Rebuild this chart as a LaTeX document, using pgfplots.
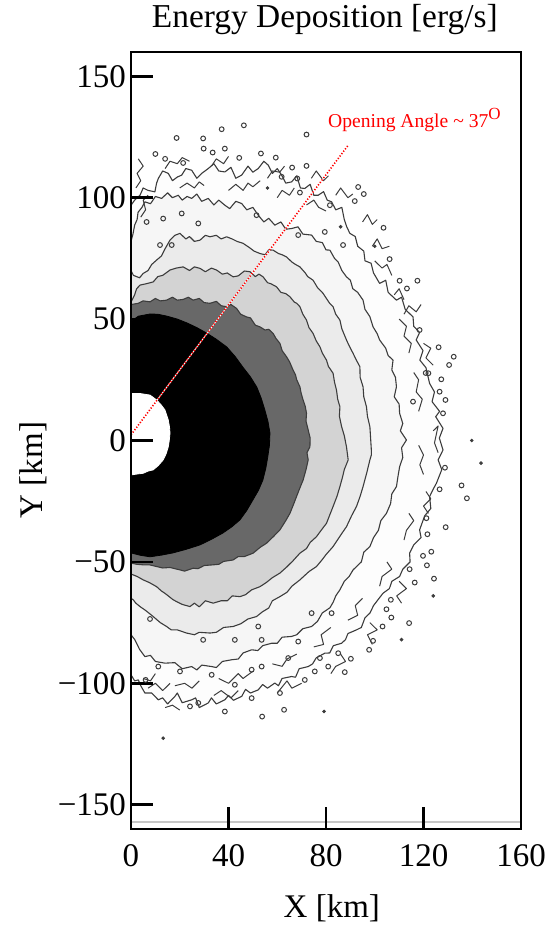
\documentclass[border=0pt]{standalone}
\usepackage{fontspec}
\setmainfont{Liberation Serif}
\usepackage{pgfplots}
\pgfplotsset{compat=1.18}

\definecolor{cline}{RGB}{60,60,60}
\definecolor{lev0}{RGB}{253,253,253}
\definecolor{lev1}{RGB}{246,246,246}
\definecolor{lev2}{RGB}{235,235,235}
\definecolor{lev3}{RGB}{211,211,211}
\definecolor{lev4}{RGB}{104,104,104}

\pgfplotsset{
  contour/.style={draw=cline, line width=0.55pt, line join=round, mark=none},
  squig/.style={draw=cline, line width=0.5pt, line join=round, mark=none},
}

\begin{document}
\begin{tikzpicture}
\begin{axis}[
  scale only axis, width=195pt, height=388.5pt,
  xmin=0, xmax=160, ymin=-160, ymax=160,
  axis on top,
  axis line style={line width=1.4pt},
  tick align=inside, xtick pos=bottom, ytick pos=left,
  major tick length=11pt,
  tick style={line width=1.3pt, black},
  xtick={0,40,80,120,160}, xticklabels={0,40,80,120,160},
  ytick={-150,-100,...,150}, yticklabels={−150,−100,−50,0,50,100,150},
  tick label style={font=\fontsize{16.5}{18}\selectfont},
  xticklabel style={yshift=-4pt},
  yticklabel style={xshift=1pt},
  title={Energy Deposition [erg/s]},
  title style={font=\fontsize{16.7}{19}\selectfont, at={(axis description cs:0.497,1.026)}, anchor=center},
  xlabel={X [km]}, ylabel={Y [km]},
  label style={font=\fontsize{16.5}{19}\selectfont},
  xlabel style={at={(axis description cs:0.515,-0.102)}, anchor=center},
  ylabel style={at={(axis description cs:-0.251,0.462)}, anchor=center},
]

% outermost ragged contour
\addplot[contour, fill=lev0] coordinates {
(0,96.9) (1.5,99) (3.7,101) (5,104) (7,103) (9.8,102.4) (10.5,106) (11.2,107.9) (13,111) (15.3,110)
(17,107) (19,108.5) (20.8,109.3) (22.5,112) (24.9,111.3) (27,108) (29,110) (31.7,112) (34,114) (36,111)
(38.5,110.6) (41,112.5) (43,108) (45.4,109.3) (48,113) (50,110.5) (52.2,112) (54.5,115) (56.3,113.4) (58,110)
(60,112) (61.8,109.3) (63.5,106) (65.9,106.5) (68,109) (69.5,104) (71.3,103.8) (73.5,105.5) (75,101) (76.8,101)
(79,102.5) (80.5,99) (82.3,98.3) (84,95) (86.5,96) (87.5,91) (88.5,88) (89.8,85.3) (92,84) (93,80)
(95.5,78) (96,74) (98.5,73) (99.5,69) (102,64.7) (104.5,66) (105.5,61) (108.9,57.8) (111,59) (112.5,54)
(115.7,50.9) (116,47) (118.4,44.5) (117,41.4) (119.8,37) (118.5,33.1) (121,30) (122.5,23.5) (124.5,20) (123.5,16)
(126.6,12) (125,9.8) (128,5) (126.5,1) (128,-3.9) (126,-8) (127.5,-12) (125.3,-17.6) (124,-20) (122.5,-23.1)
(123,-28) (120.5,-31) (118.4,-36.8) (119,-40) (116,-43) (114.3,-46.4) (114.5,-50) (111.5,-53) (110.2,-56) (107,-58)
(106,-61) (103.4,-62.9) (101,-66) (99.5,-68) (98,-71.1) (96,-73) (94.5,-77) (92.5,-78) (89,-79.5) (88,-82)
(86.4,-83.5) (83,-84.5) (81.5,-87.5) (79.5,-87.6) (76,-89.5) (74.5,-92) (72.7,-93.1) (69,-94) (67.5,-97.5) (65.9,-97.2)
(62,-98) (60.5,-101) (59,-99.9) (56,-102) (54,-100.5) (52.2,-102.7) (49,-104) (47,-102.5) (45.4,-105.4) (42,-107)
(40,-105) (38.5,-106.8) (35,-108.5) (33,-106) (31.7,-108.1) (28,-110) (26.5,-106) (24.9,-106.8) (21,-108) (19,-104)
(18,-105.4) (15,-108.5) (13,-106) (11.2,-106.8) (8.5,-104) (5.7,-104) (4,-101) (3,-98.6) (1.5,-99) (0,-96.5)
} -- cycle;

% second contour
\addplot[contour, fill=lev1] coordinates {
(0,82) (0.8,85) (1.5,88.7) (2.5,91) (2.9,94) (4.5,96) (5.7,98.3) (8,97.5) (10,100.5) (12.6,99.7)
(15,102) (17,100) (19.4,101) (21,99) (23,100.5) (24.9,99.7) (27,101.5) (29,98.5) (31.7,99.7) (34,97)
(36,99) (38.5,96.9) (40.5,95.5) (43,98.5) (45.4,97.6) (47.5,95) (50,96) (52.2,92.8) (54.5,90) (56.5,91.5)
(59,88.7) (61.5,90) (63.5,87) (65.9,87.3) (68.5,88) (70.5,85) (74.1,84.6) (76,82) (78.5,81.5) (80,78.5)
(81.6,78.4) (83.5,75) (85,73.5) (86.5,70) (88.4,67.4) (90,66) (91,62.5) (93,61) (95.2,57.8) (96,54)
(98,51) (99.3,46.8) (101,44) (102,41.4) (104.5,38) (105.5,35) (107.5,33.1) (107,29) (108.5,26) (108.9,22.1)
(108,18) (110,15) (110.2,11.2) (111.5,7) (110.5,4) (113,0.2) (111,-3) (111.5,-7) (110.2,-10.8) (109.5,-15)
(108.9,-19) (107,-22) (106.5,-26) (104.8,-30) (102.5,-33) (101.5,-37) (99.5,-40) (98,-43.7) (95.5,-46) (94.5,-50)
(91.1,-53.3) (89.5,-56) (87.5,-58) (85.7,-61.5) (84,-64) (83,-66.5) (81.6,-68.9) (78.5,-71) (76.5,-74.5) (74.1,-76.6)
(70.5,-77.5) (68,-80) (65.9,-80.7) (62,-81) (60,-83.5) (57.7,-83.5) (54,-84.5) (52,-86.5) (49.5,-86.2) (46,-87.5)
(44,-90) (41.3,-90.3) (37.5,-91) (35,-93.5) (33.1,-93.1) (29,-92.5) (27,-94.5) (24.9,-93.1) (21,-94) (18,-91.5)
(13.9,-91.7) (10,-91) (8,-88.5) (5.7,-89) (3.5,-86) (1.6,-82.1) (0,-80)
} -- cycle;

% third contour
\addplot[contour, fill=lev2] coordinates {
(0,70) (1,68) (2.3,67.5) (3.5,67) (5,68.8) (7,70) (8.5,72.5) (10.5,74.3) (12.5,76) (14,79)
(16,82.5) (18,84.5) (20.1,85.3) (22.5,83) (24,84) (26,82) (28.3,82.5) (30.5,84.5) (32.4,83.9) (35,84.5)
(37,83) (39.2,83.9) (41.5,83) (43.5,82) (46,81.2) (48.5,79.5) (50.5,78) (52.9,77) (55,76.5) (56.5,78.5)
(58.3,78.4) (60.5,77) (62,76.5) (63.8,75.6) (66,73.5) (67.5,72.5) (69.3,71.5) (71.5,69) (72.5,67.5) (74.7,66)
(76.5,63) (77.5,62) (78.8,60.6) (80.5,58) (81.5,56.5) (82.9,55.1) (84,52) (85.7,49.6) (86.5,46) (88.4,41.4)
(89.5,39) (91.1,35.9) (92.5,33) (93.9,30.4) (94,26) (95.2,22.1) (95.5,18) (96.6,13.9) (97,10) (98,5.7)
(98.3,1) (98.6,-3.9) (98.6,-6) (98,-8) (96.8,-13) (95.2,-19) (94,-23) (92.5,-27.2) (90.5,-31) (88.4,-35.5)
(86,-39) (82.9,-43.7) (80,-47) (78.5,-49) (76.1,-51.9) (73,-54) (69.3,-57.4) (66,-60) (64,-62.5) (61.1,-64.3)
(58,-66) (56.5,-69) (54,-70.5) (51.5,-72.5) (48,-73.5) (45,-75.5) (41.9,-76.6) (38,-77) (35,-79) (32.4,-79.3)
(28,-79) (26,-80) (22.8,-79.3) (19,-78) (16.5,-78) (14.6,-76.6) (12,-75) (9.1,-72.5) (6,-70) (3.7,-68.4)
(2,-67) (0.9,-65.6) (0,-65)
} -- cycle;

% light grey level
\addplot[contour, fill=lev3] coordinates {
(0,57) (1.5,60) (2.3,62.5) (3.7,64) (6,64.5) (9.1,65.3) (11,67.5) (13,68) (16,70.2) (18.5,71)
(21.4,71.5) (24,70) (26,71.5) (28.3,70.9) (30.5,69.5) (33,71) (35.1,70.2) (37.5,68.5) (39.5,69) (41.9,67.4)
(44,67.8) (46.5,69.8) (48.8,69.5) (51,67.5) (52.5,68.5) (54.2,67.4) (56,65) (57.5,64.5) (59.7,63.3) (61.5,61)
(63.5,60.5) (65.2,59.2) (67,57) (68,56.5) (69.3,55.1) (70.5,52) (72,49.6) (73,46.5) (74.7,44.1) (76,41)
(77.5,38.6) (78.5,36) (80.2,33.1) (81,30.5) (82.9,27.7) (83.5,24) (84.3,20.8) (84.8,17) (85.7,13.9) (85.5,10)
(86.4,5.7) (87.5,2) (88.4,-2.6) (89.1,-8) (87.5,-12) (86.8,-15) (85.7,-19) (84.5,-23) (82.9,-27.2) (81.8,-30)
(80.2,-34.1) (78,-37) (76.1,-39.6) (73.5,-42) (72,-44.5) (69.3,-46.4) (66.5,-49.5) (64,-52) (61.1,-54.6) (58,-56.5)
(55.5,-58.5) (52.9,-60.2) (49.5,-61.5) (47,-63.5) (44.7,-64.3) (41.5,-64) (39.5,-66) (37,-66) (33.7,-67) (30.5,-66)
(28,-68.5) (26,-67) (24.2,-68.4) (21,-67.5) (19,-66.5) (17.3,-65.6) (14,-63) (12.5,-62) (10.5,-60.2) (7.5,-58.5)
(5,-57.4) (2.5,-56) (0,-55)
} -- cycle;

% dark grey level
\addplot[contour, fill=lev4] coordinates {
(0,56) (3,56.5) (5,57.5) (7.8,57.1) (10,58.5) (12,57.5) (14.6,57.8) (17,59) (19,57.8) (21.4,58.1)
(23.5,59) (25.5,57.8) (28,58.5) (30,56.8) (32.4,56.5) (35,57.3) (37,55.5) (39.2,55.1) (41,56) (43.3,54.4)
(45,52) (47.4,50.9) (49,50.5) (51,47.5) (52.9,46.8) (55,45.5) (56.5,45.8) (58.3,44.1) (59.5,42) (61.1,40)
(62,37) (63.8,34.5) (65,32.5) (66.5,29) (67.5,27) (68,25) (69.3,22.1) (69.8,19.5) (70.6,16.7) (71.5,14)
(72,11.2) (71.8,8) (72.7,4.3) (73.5,1) (73.4,-2.6) (72.2,-5) (72.7,-8) (71.8,-12) (70.6,-16.3) (69.5,-19)
(67.9,-23.1) (66.8,-26) (65.2,-30) (63.5,-33) (61.1,-36.8) (58.5,-39.5) (55.6,-42.3) (53,-44) (50.1,-46.4) (46.5,-47.8)
(44,-47.8) (41.9,-49.2) (38,-49.8) (36,-51) (33.7,-51.2) (30,-51.5) (27.5,-52.8) (25.5,-52.6) (22,-53.8) (20.1,-53.3)
(16,-52.3) (13,-52.5) (10.5,-51.9) (7.5,-51.2) (5,-51.2) (2.5,-51) (0,-50.5)
} -- cycle;

% black core
\addplot[draw=black, fill=black, mark=none] coordinates {
(0,49) (3,51.2) (7.8,52.1) (11,52) (14.8,51.2) (19,50) (23,48.4) (27,46.5) (31.1,44.2) (35,41.7)
(39.3,38.5) (42.8,34.5) (45.9,30.2) (49,26.2) (51.6,22) (53.4,17.5) (54.9,12.6) (56.2,7.8) (57,3.1) (56.8,-2)
(56.1,-6.8) (55.3,-11.5) (54.1,-16.3) (52.3,-20.5) (50,-24.5) (47.5,-28.8) (44.7,-32.7) (41.3,-35.6) (37.7,-38.1) (33,-40.7)
(28.3,-43) (22.7,-44.8) (17.2,-46.3) (12.5,-47.2) (7.8,-47.9) (4,-47.3) (0,-46.3)
} -- cycle;

% white hole at the centre
\addplot[draw=white, fill=white, mark=none] coordinates {
(0,19.4) (4,19.3) (7.8,18.7) (10.5,16.7) (12.5,14.5) (13.9,12.6) (15.3,8.4) (15.8,5.5) (16,3) (15.7,0)
(15.3,-2.6) (14.4,-5.5) (13.2,-8) (11.2,-10.3) (9.1,-12.1) (7,-12.6) (5,-13.5) (2.5,-13.8) (0,-14.2)
} -- cycle;

% squiggles inside the noisy band
\addplot[squig] coordinates {(4,92) (6,95) (5,99) (7,101)};
\addplot[squig] coordinates {(20,104) (23,106) (26,104) (28,106.5) (30,105)};
\addplot[squig] coordinates {(40,103) (43,105.5) (46,103) (48,106) (50,104.5) (53,107)};
\addplot[squig] coordinates {(60,100) (62,103) (65,101) (67,104)};
\addplot[squig] coordinates {(72,97) (75,99) (77,96) (80,94.5)};
\addplot[squig] coordinates {(100,74) (103,71) (105,72.5) (107,68)};
\addplot[squig] coordinates {(110,50) (113,47) (112,43) (115,40) (114,36)};
\addplot[squig] coordinates {(116,28) (118,25) (117,20) (119.5,17) (118,12)};
\addplot[squig] coordinates {(118,-2) (120,-6) (118.5,-10) (120,-14)};
\addplot[squig] coordinates {(114,-30) (116,-33) (113,-37) (112,-41)};
\addplot[squig] coordinates {(105,-50) (107,-53) (103,-56) (102,-60)};
\addplot[squig] coordinates {(95,-65) (92,-68) (93,-72) (89,-74)};
\addplot[squig] coordinates {(82,-77) (78,-80) (79,-84) (75,-85)};
\addplot[squig] coordinates {(68,-88) (64,-90) (62,-93) (58,-92)};
\addplot[squig] coordinates {(50,-95) (46,-98) (44,-96) (40,-100) (36,-98)};
\addplot[squig] coordinates {(28,-99) (25,-102) (22,-100) (18,-101)};
\addplot[squig] coordinates {(10,-96) (8,-99) (5,-98)};
\addplot[squig] coordinates {(2,104) (4,107) (2.5,110) (5,113) (3,116)};
\addplot[squig] coordinates {(14,112) (16,115) (19,114) (21,116.5) (24,115)};
\addplot[squig] coordinates {(33,113) (35,116) (38,114) (40,117)};
\addplot[squig] coordinates {(56,108) (58,111) (61,110.5) (63,113)};
\addplot[squig] coordinates {(74,108) (76,111) (79,107) (81,109)};
\addplot[squig] coordinates {(84,101) (86,104) (89,100) (91,101.5)};
\addplot[squig] coordinates {(95,90) (97,93) (99,89) (101,91)};
\addplot[squig] coordinates {(99,80) (101,83) (103,79) (106,80)};
\addplot[squig] coordinates {(108,60) (110,62.5) (112,58)};
\addplot[squig] coordinates {(112,52) (114,55.5) (117,53) (119,56)};
\addplot[squig] coordinates {(120,40) (123,38) (121,34) (124,31)};
\addplot[squig] coordinates {(124,4) (126,6) (124.5,-1) (126,-5)};
\addplot[squig] coordinates {(121,-21) (123,-24) (120,-27) (122,-30)};
\addplot[squig] coordinates {(110,-58) (113,-61) (109,-64) (111,-67)};
\addplot[squig] coordinates {(98,-75) (101,-78) (97,-80) (99,-84)};
\addplot[squig] coordinates {(86,-88) (88,-91) (84,-93) (82,-96)};
\addplot[squig] coordinates {(70,-100) (66,-102) (64,-99) (60,-104)};
\addplot[squig] coordinates {(44,-103) (41,-106) (37,-103) (34,-105)};
\addplot[squig] coordinates {(16,-100) (13,-103) (10,-100) (7,-102)};
\addplot[squig] coordinates {(20,-111) (17,-109) (14,-110)};

% small islands of the outer level
\addplot[only marks, mark=o, mark size=1.2pt, mark options={draw=cline, line width=0.5pt}] coordinates {
(37.2,128.2) (46.3,129.8) (18.7,124.6) (29.6,124.4) (29.8,120.2) (33.5,118.6) (38.5,120.2) (44.4,116.4)
(53.3,118.2) (59.4,116.5) (72.0,126.0) (21.4,114.3) (66.1,112.4) (72.0,113.1) (61.8,108.6) (68.2,107.9)
(69.3,102.1) (81.6,96.9) (93.2,104.4) (91.8,98.6) (95.5,101.5) (27.6,89.4) (20.8,93.5) (13.2,91.4)
(6.4,90) (11.9,80.5) (16.7,80.5) (51.5,92.8) (79.5,85.9) (87,80.5) (68.6,84.6) (10,118) (14,116)
(103.6,87.6) (106.1,74.7) (110.2,65.8) (117.5,65.8) (113.2,62.6) (132.4,34.5) (126.2,38.4) (130.5,31.1)
(122,27.7) (127.3,25.2) (126.6,20.1) (128,11.2) (129,16.7) (128.8,-11.2) (126.6,-20.1) (135.6,-18.5)
(137.8,-23.8) (121.2,-32) (129.1,-35.7) (121.6,-38.6) (123.2,-45.8) (119.8,-47.5) (121.4,-51.4) (114.3,-53)
(124.3,-56.9) (116.4,-58.5) (106.6,-65.6) (104.8,-69.5) (106.8,-72.9) (114.1,-75.2) (103.2,-76.6) (99.3,-82.5)
(97.7,-86.2) (90.2,-89.9) (87.7,-95.4) (115.7,16) (118.4,45.5) (120.9,27.8)
(38.5,-111.6) (62.8,-110.9) (53.8,-113.7) (61.1,-104) (49.5,-106.1) (27.6,-108.1) (24.2,-109.5)
(71.3,-98.6) (75.4,-95.1) (80.9,-93.1) (85,-87.6) (77.5,-89.6) (42.6,-82.1) (53.6,-82.1) (29.6,-82.1)
(52.2,-76.6) (7.8,-73.5) (20.1,-95.1) (33.1,-96.5) (42.6,-100.6) (53.6,-93.1) (64.5,-89.6) (68.6,-82.8)
(74.1,-71.1) (82.3,-71.1) (6,-98.6) (11.2,-93.1) (49.5,-94.4)
};
\addplot[only marks, mark=*, mark size=0.7pt, mark options={draw=cline, fill=cline}] coordinates {
(13.2,-122.6) (79.2,-111.6) (139.8,0) (143.6,-9.3) (56,104) (86,88) (100,80) (124,-64) (111,-82)
};

% faint line along the bottom of the frame
\addplot[draw=black!22, line width=0.9pt, mark=none] coordinates {(0,-157.2) (160,-157.2)};

% opening angle
\addplot[draw=white, line width=0.5pt, mark=none] coordinates {(0,2.3) (89.1,121.6)};
\addplot[draw=red, line width=0.8pt, dash pattern=on 0.6pt off 0.9pt, mark=none] coordinates {(0,2.3) (89.1,121.6)};
\node[anchor=base west, text=red, font=\fontsize{9.8}{11}\selectfont, inner sep=0pt]
  at (axis cs:80.7,129) {Opening Angle \textasciitilde{} 37\raisebox{0.9ex}{\fontsize{8.5}{9}\selectfont O}};

\end{axis}
\pgfresetboundingbox
\path[use as bounding box] ([xshift=-65.5pt,yshift=-50.5pt]current axis.south west)
  rectangle ([xshift=14.5pt,yshift=26pt]current axis.north east);
\end{tikzpicture}
\end{document}
